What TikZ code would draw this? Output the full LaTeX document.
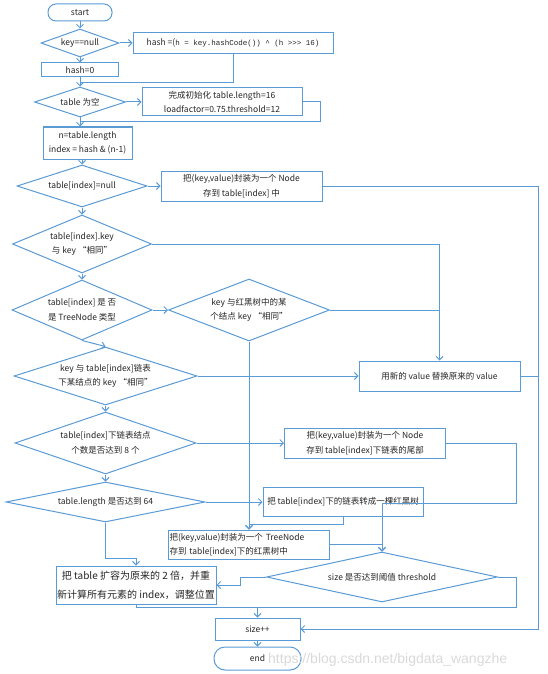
\documentclass[tikz,border=0pt]{standalone}
\usepackage{fontspec}
\setmainfont{Noto Sans CJK SC}
\newfontfamily\codefont{Liberation Mono}
\newfontfamily\markfont{Liberation Sans}
\usepackage{tikz}
\usetikzlibrary{shapes.geometric, arrows.meta, calc}
\definecolor{lineblue}{RGB}{91,155,213}

\begin{document}
\begin{tikzpicture}[x=1pt, y=-1pt,
	txt/.style={font=\fontsize{8.5}{14.5}\selectfont, align=center, inner sep=0pt, text=black!85},
	proc/.style={txt, draw=lineblue, fill=white, line width=1pt, rectangle},
	term/.style={proc, rounded corners=8pt},
	decide/.style={draw=lineblue, fill=white, line width=1pt, diamond, inner sep=0pt},
	link/.style={draw=lineblue, line width=1pt},
	flow/.style={link, -{Straight Barb[length=3.5pt, width=7pt]}}]
	\useasboundingbox (0,0) rectangle (548,674);
	\coordinate (rail) at (538,0);
	\coordinate (hmerge) at (80,83);
	\coordinate (imerge) at (80,122);
	\coordinate (tbend) at (516,503);
	\coordinate (sbend) at (516,607);

	% top column
	\node[term, minimum width=64pt, minimum height=17pt] (start) at (80,12.5) {start};
	\node[decide, minimum width=78pt, minimum height=28pt, label={[txt]center:{key==null}}] (keynull) at (80,43) {};
	\node[proc, minimum width=200pt, minimum height=21pt] (hash) at (233,43) {hash =({\codefont\fontsize{7.5}{14}\selectfont h = key.hashCode()) \textasciicircum{} (h >{}>{}> 16)}};
	\node[proc, minimum width=77pt, minimum height=14pt] (hashzero) at (80,70) {hash=0};
	\node[decide, minimum width=91pt, minimum height=30pt, label={[txt]center:{table 为空}}] (tempty) at (80,102) {};
	\node[proc, minimum width=160pt, minimum height=28pt] (init) at (222,102) {完成初始化 table.length=16\\loadfactor=0.75.threshold=12};
	\node[proc, minimum width=89pt, minimum height=32pt] (nidx) at (87.5,143) {n=table.length\\index = hash \& (n-1)};

	% lookups
	\node[decide, minimum width=130pt, minimum height=42pt, label={[txt]center:{table[index]=null}}] (isnull) at (82,186) {};
	\node[proc, minimum width=161pt, minimum height=30pt] (putnode) at (241.5,186) {把(key,value)封装为一个 Node\\存到 table[index] 中};
	\node[decide, minimum width=139pt, minimum height=58pt, label={[txt]center:{table[index].key\\与 key “相同”}}] (samekey) at (82,244) {};
	\node[decide, minimum width=140pt, minimum height=60pt, label={[txt]center:{table[index] 是 否\\是 TreeNode 类型}}] (istree) at (82,310) {};
	\node[decide, minimum width=161pt, minimum height=62pt, label={[txt]center:{key 与红黑树中的某\\个结点 key “相同”}}] (treekey) at (249,310) {};
	\node[decide, minimum width=183pt, minimum height=58pt, label={[txt]center:{key 与 table[index]链表\\下某结点的 key “相同”}}] (listkey) at (105.5,376) {};
	\node[proc, minimum width=161pt, minimum height=30pt] (replace) at (439.5,376) {用新的 value 替换原来的 value};

	% list and tree
	\node[decide, minimum width=181pt, minimum height=62pt, label={[txt]center:{table[index]下链表结点\\个数是否达到 8 个}}] (count8) at (105.5,443) {};
	\node[proc, minimum width=161pt, minimum height=30pt] (tailnode) at (365,443) {把(key,value)封装为一个 Node\\存到 table[index]下链表的尾部};
	\node[decide, minimum width=199pt, minimum height=40pt, label={[txt]center:{table.length 是否达到 64}}] (len64) at (105.5,502) {};
	\node[proc, minimum width=160pt, minimum height=29pt] (totree) at (343,502) {把 table[index]下的链表转成一棵红黑树};
	\node[proc, text width=159pt, inner xsep=1pt, minimum height=29pt, align=left] (treenode) at (249,544.5) {把(key,value)封装为一个 TreeNode\\存到 table[index]下的红黑树中};
	\node[proc, minimum width=160pt, minimum height=38pt, font=\fontsize{10}{19}\selectfont] (resize) at (136,585) {把 table 扩容为原来的 2 倍，并重\\新计算所有元素的 index，调整位置};
	\node[decide, minimum width=231pt, minimum height=50pt, label={[txt]center:{size 是否达到阈值 threshold}}] (sizechk) at (382,577) {};
	\node[proc, minimum width=85pt, minimum height=22pt] (sizepp) at (257.5,629) {size++};
	\node[term, minimum width=87pt, minimum height=23pt, rounded corners=11pt] (end) at (257.5,658.5) {end};

	% connectors
	\draw[flow] (start.south) -- (keynull.north);
	\draw[flow] (keynull.east) -- (hash.west);
	\draw[flow] (keynull.south) -- (hashzero.north);
	\draw[link] (hash.south) |- (hmerge);
	\draw[flow] (hashzero.south) -- (tempty.north);
	\draw[flow] (tempty.east) -- (init.west);
	\draw[link] (init.east) -- ++(18,0) |- (imerge);
	\draw[flow] (tempty.south) -- (tempty.south |- nidx.north);
	\draw[flow] (nidx.south -| isnull.north) -- (isnull.north);
	\draw[flow] (isnull.east) -- (putnode.west);
	\draw[flow] (putnode.east) -- (putnode.east -| rail) -- (rail |- sizepp.east) -- (sizepp.east);
	\draw[flow] (isnull.south) -- (samekey.north);
	\draw[flow] (samekey.east) -| (replace.north);
	\draw[flow] (samekey.south) -- (istree.north);
	\draw[flow] (istree.east) -- (treekey.west);
	\draw[link] (treekey.east) -- (treekey.east -| replace.north);
	\draw[flow] (istree.south) -- (listkey.north);
	\draw[flow] (treekey.south) -- (treenode.north);
	\draw[flow] (listkey.east) -- (replace.west);
	\draw[link] (replace.east) -- (replace.east -| rail);
	\draw[flow] (listkey.south) -- (count8.north);
	\draw[flow] (count8.east) -- (tailnode.west);
	\draw[flow] (tailnode.east) -- (tbend |- tailnode.east) -- (tbend) -- (tbend -| sizechk.north) -- (sizechk.north);
	\draw[flow] (count8.south) -- (len64.north);
	\draw[flow] (len64.east) -- (totree.west);
	\draw[flow] (totree.south) -- ++(0,7) -| (treenode.north);
	\draw[flow] (treenode.east) -| (sizechk.north);
	\draw[flow] (len64.south) -- ++(0,36) -| (resize.north);
	\draw[flow] (sizechk.west) -- ++(-26,0) |- (resize.east);
	\draw[flow] (sizechk.east) -- (sbend |- sizechk.east) -- (sbend) -- (sbend -| sizepp.north) -- (sizepp.north);
	\draw[link] (resize.south) |- (sbend -| sizepp.north);
	\draw[flow] (sizepp.south) -- (end.north);

	\node[font=\markfont\fontsize{14}{14}\selectfont, text=gray!30, anchor=west, inner sep=0pt] (mark) at (268,660) {https://blog.csdn.net/bigdata\_wangzhe};
\end{tikzpicture}
\end{document}
